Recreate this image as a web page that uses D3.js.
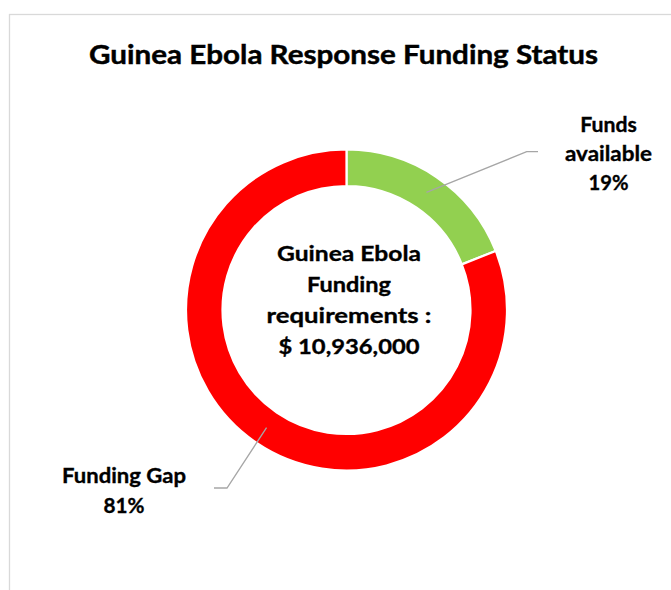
<!DOCTYPE html>
<html>
<head>
<meta charset="utf-8">
<script src="https://cdn.jsdelivr.net/npm/d3@7"></script>
<style>
  html, body { margin: 0; padding: 0; background: #fff; }
  svg { display: block; }
  text { font-family: Lato, "Open Sans", sans-serif; font-weight: bold; fill: #000; stroke: #000; stroke-width: 0.35px; }
</style>
</head>
<body>
<svg id="chart" width="671" height="590"></svg>
<script>
// ---- data ----
const title = "Guinea Ebola Response Funding Status";
const categories = ["Funds available", "Funding Gap"];
const percents = [19, 81];
const sliceColors = ["#92d050", "#ff0000"];
const centerLines = ["Guinea Ebola", "Funding", "requirements :", "$ 10,936,000"];

// ---- layout ----
const W = 671, H = 590;
const cx = 346.5, cy = 310, rOuter = 160.5, rInner = 124;
const smallSize = 21.6;
// rendered widths of each text line (to mimic the original typeface's widths)
const textWidths = {
  "Guinea Ebola": 144, "Funding": 84, "requirements :": 165, "$ 10,936,000": 141,
  "Funds": 56.6, "available": 87, "19%": 40, "Funding Gap": 124, "81%": 41
};
const svg = d3.select("#chart");

// chart border
svg.append("rect")
  .attr("x", 9.5).attr("y", 14.5)
  .attr("width", W + 20).attr("height", H + 20)
  .attr("fill", "none").attr("stroke", "#d9d9d9").attr("stroke-width", 1.3);

// title
svg.append("text")
  .attr("x", 343.6).attr("y", 64.3)
  .attr("text-anchor", "middle")
  .style("font-size", "27px")
  .style("stroke-width", "0.45px")
  .attr("textLength", 509).attr("lengthAdjust", "spacingAndGlyphs")
  .text(title);

const data = categories.map((c, i) => ({ name: c, value: percents[i], color: sliceColors[i] }));
const pie = d3.pie().sort(null).value(d => d.value);
const arcs = pie(data);
const arc = d3.arc().innerRadius(rInner).outerRadius(rOuter);
const midArc = d3.arc().innerRadius((rInner + rOuter) / 2).outerRadius((rInner + rOuter) / 2);

const g = svg.append("g").attr("transform", `translate(${cx},${cy})`);
g.selectAll("path.slice")
  .data(arcs)
  .join("path")
  .attr("class", "slice")
  .attr("d", arc)
  .attr("fill", d => d.data.color)
  .attr("stroke", "#fff")
  .attr("stroke-width", 2.2);

function fitText(sel) {
  sel.each(function (d) {
    if (textWidths[d]) d3.select(this).attr("textLength", textWidths[d]).attr("lengthAdjust", "spacingAndGlyphs");
  });
}

// center text
svg.append("g").selectAll("text")
  .data(centerLines)
  .join("text")
  .attr("x", 349)
  .attr("y", (d, i) => 260.7 + i * 31.1)
  .attr("text-anchor", "middle")
  .style("font-size", smallSize + "px")
  .text(d => d)
  .call(fitText);

// data labels with leader lines
const labelSpecs = [
  { bend: [526.7, 151.7], end: [538, 151.7], x: 608.5, y0: 131.7, dy: 29, lines: ["Funds", "available", percents[0] + "%"] },
  { bend: [227, 488], end: [214, 488], x: 124, y0: 483.3, dy: 29.4, lines: [categories[1], percents[1] + "%"] }
];

arcs.forEach((a, i) => {
  const spec = labelSpecs[i];
  const c = midArc.centroid(a);
  const start = [cx + c[0], cy + c[1]];
  svg.append("path")
    .attr("d", d3.line()([start, spec.bend, spec.end]))
    .attr("fill", "none")
    .attr("stroke", "#a6a6a6")
    .attr("stroke-width", 1.3);
  svg.append("g").selectAll("text")
    .data(spec.lines)
    .join("text")
    .attr("x", spec.x)
    .attr("y", (d, k) => spec.y0 + k * spec.dy)
    .attr("text-anchor", "middle")
    .style("font-size", smallSize + "px")
    .text(d => d)
    .call(fitText);
});
</script>
</body>
</html>
